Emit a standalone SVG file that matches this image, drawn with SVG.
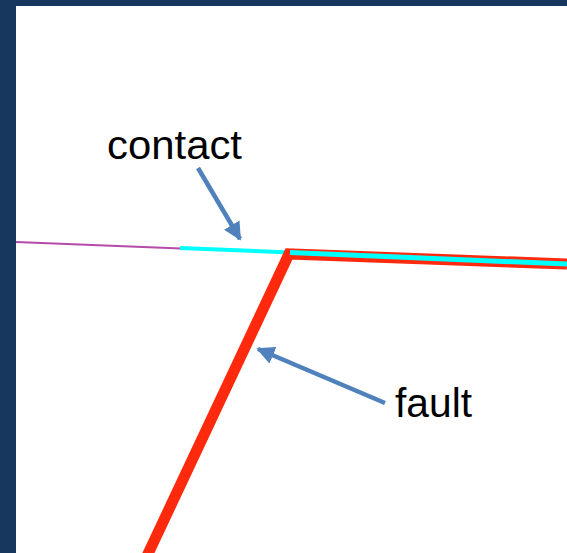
<svg xmlns="http://www.w3.org/2000/svg" width="567" height="553" viewBox="0 0 567 553">
<style>
.lbl{font-family:"Liberation Sans",Arial,sans-serif;font-size:41px;fill:#000}
.arr{stroke:#4f81bd;stroke-width:4.5;fill:none;marker-end:url(#ah)}
</style>
<defs>
<marker id="ah" viewBox="0 0 10 10" refX="9" refY="5" markerWidth="4" markerHeight="4" orient="auto" markerUnits="strokeWidth">
<path d="M0,0 L10,5 L0,10 z" fill="#4f81bd"/>
</marker>
</defs>
<rect x="0" y="0" width="567" height="553" fill="#17375e"/>
<rect x="16" y="6" width="551" height="547" fill="#ffffff"/>
<g id="lines">
<line x1="16" y1="242" x2="181" y2="248.5" stroke="#b54aa8" stroke-width="2"/>
<line x1="180" y1="248" x2="290" y2="252.5" stroke="#00ffff" stroke-width="4"/>
<polyline points="147,556 289,254 567,264" fill="none" stroke="#ff2a0e" stroke-width="11" stroke-linejoin="miter"/>
<line x1="290" y1="252.5" x2="567" y2="264" stroke="#00ffff" stroke-width="5"/>
</g>
<g id="contact">
<text class="lbl" x="107" y="159" textLength="135" lengthAdjust="spacingAndGlyphs">contact</text>
</g>
<g id="fault">
<text class="lbl" x="395" y="417" textLength="77" lengthAdjust="spacingAndGlyphs">fault</text>
</g>
<g id="connectors">
<line class="arr" x1="198" y1="168" x2="240" y2="239"/>
<line class="arr" x1="385" y1="403" x2="258" y2="349"/>
</g>
</svg>
